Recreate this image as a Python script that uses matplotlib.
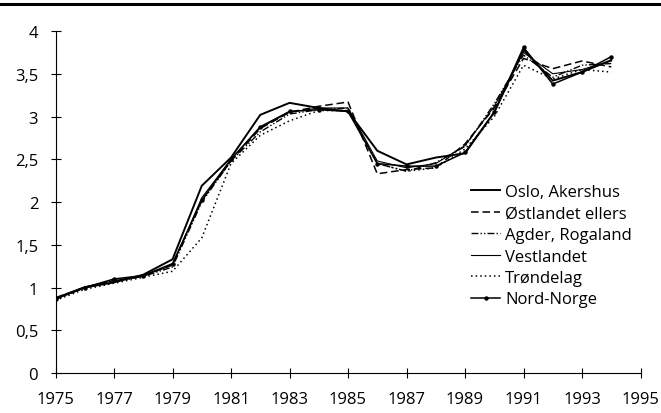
import matplotlib.pyplot as plt
from matplotlib.lines import Line2D

plt.rcParams['font.family'] = ['Open Sans', 'DejaVu Sans']

years = list(range(1975, 1995))

oslo = [0.87, 1.00, 1.06, 1.15, 1.33, 2.19, 2.52, 3.02, 3.16, 3.10, 3.06, 2.60, 2.44, 2.52, 2.57, 3.05, 3.78, 3.42, 3.52, 3.66]
ostlandet = [0.88, 1.00, 1.08, 1.13, 1.27, 2.02, 2.48, 2.86, 3.05, 3.12, 3.17, 2.33, 2.38, 2.40, 2.68, 3.10, 3.68, 3.56, 3.65, 3.58]
agder = [0.86, 1.00, 1.07, 1.13, 1.24, 2.00, 2.48, 2.82, 3.03, 3.08, 3.10, 2.45, 2.36, 2.46, 2.65, 3.15, 3.72, 3.46, 3.60, 3.62]
vestlandet = [0.88, 1.01, 1.08, 1.14, 1.26, 2.05, 2.50, 2.87, 3.05, 3.10, 3.10, 2.48, 2.40, 2.45, 2.66, 3.12, 3.75, 3.50, 3.55, 3.65]
trondelag = [0.85, 0.98, 1.05, 1.12, 1.19, 1.58, 2.45, 2.78, 2.95, 3.07, 3.07, 2.45, 2.36, 2.40, 2.62, 3.00, 3.60, 3.44, 3.55, 3.52]
nordnorge = [0.87, 1.00, 1.10, 1.14, 1.28, 2.02, 2.50, 2.88, 3.06, 3.08, 3.06, 2.45, 2.42, 2.42, 2.58, 3.05, 3.81, 3.38, 3.52, 3.70]

xticks = list(range(1975, 1996, 2))
yticks = [0, 0.5, 1, 1.5, 2, 2.5, 3, 3.5, 4]
ytick_labels = ["0", "0,5", "1", "1,5", "2", "2,5", "3", "3,5", "4"]

fig = plt.figure(figsize=(6.61, 4.14), dpi=100)
ax = fig.add_axes([0.084, 0.0966, 0.885, 0.826])

ax.plot(years, oslo, color='black', lw=1.4, label='Oslo, Akershus')
ax.plot(years, ostlandet, color='black', lw=1.1, ls=(0, (5, 2.5)), label='Østlandet ellers')
ax.plot(years, agder, color='black', lw=1.0, ls=(0, (5, 1.5, 1, 1.5, 1, 1.5)), label='Agder, Rogaland')
ax.plot(years, vestlandet, color='black', lw=0.8, label='Vestlandet')
ax.plot(years, trondelag, color='black', lw=1.1, ls=(0, (1, 2)), label='Trøndelag')
ax.plot(years, nordnorge, color='black', lw=1.1, marker='o', ms=2.2, label='Nord-Norge')

ax.set_xlim(1975, 1995)
ax.set_ylim(0, 4)
ax.set_xticks(xticks)
ax.set_yticks(yticks)
ax.set_yticklabels(ytick_labels)
ax.tick_params(axis='both', direction='inout', length=7, width=0.8, labelsize=12, colors='black')
ax.tick_params(axis='x', pad=9.5)
ax.tick_params(axis='y', pad=9)

for s in ['top', 'right']:
    ax.spines[s].set_visible(False)
ax.spines['left'].set_linewidth(0.8)
ax.spines['bottom'].set_linewidth(0.8)

ax.legend(loc='upper left', bbox_to_anchor=(471 / 661, 1 - 185 / 414), bbox_transform=fig.transFigure,
          frameon=False, fontsize=12, handlelength=1.75, handletextpad=0.3, labelspacing=0.33,
          borderaxespad=0, borderpad=0)

# thick rule at the top of the figure
fig.add_artist(Line2D([0, 1], [1 - 5 / 414, 1 - 5 / 414], color='black', lw=2.2, transform=fig.transFigure))

fig.savefig('out.png', dpi=100)
